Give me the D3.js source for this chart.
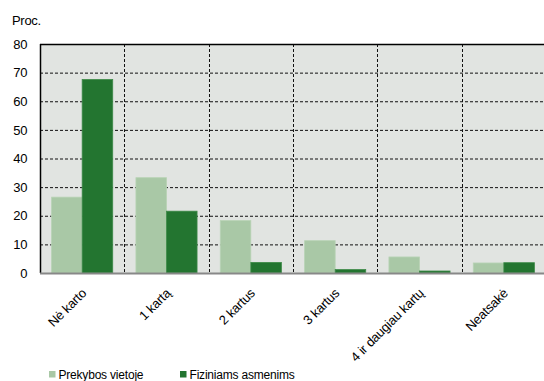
<!DOCTYPE html>
<html>
<head>
<meta charset="utf-8">
<script src="https://cdn.jsdelivr.net/npm/d3@7"></script>
<style>
  body { margin: 0; background: #fff; }
  text { font-family: "Liberation Sans", Arial, sans-serif; fill: #000; }
</style>
</head>
<body>
<svg id="chart"></svg>
<script>
// data
var categories = ['Nė karto', '1 kartą', '2 kartus', '3 kartus', '4 ir daugiau kartų', 'Neatsakė']
var seriesNames = ['Prekybos vietoje', 'Fiziniams asmenims']
var prekybos = [26.5, 33.3, 18.3, 11.3, 5.6, 3.5]
var fiziniams = [67.6, 21.6, 3.7, 1.2, 0.7, 3.6]
var yTicks = [0, 10, 20, 30, 40, 50, 60, 70, 80]
var colors = ['#a9c8a6', '#237530']

var svgWidth = 544, svgHeight = 381
var margin = { top: 44, left: 40, right: -2, bottom: 108 }
var width = svgWidth - margin.left - margin.right
var height = svgHeight - margin.top - margin.bottom

var svg = d3.select('#chart')
    .attr('width', svgWidth)
    .attr('height', svgHeight)

var g = svg.append('g')
    .attr('transform', 'translate(' + margin.left + ',' + margin.top + ')')

var x = d3.scaleBand().domain(categories).range([0, width])
var xs = d3.scaleBand().domain(seriesNames).range([0, x.bandwidth()]).paddingOuter(0.38)
var y = d3.scaleLinear().domain([0, 80]).range([height, 0])

// plot background
g.append('rect')
    .attr('width', width)
    .attr('height', height)
    .attr('fill', '#e1e4e1')

// horizontal grid
g.selectAll('.hgrid')
    .data(yTicks.slice(1, -1))
    .enter().append('line')
    .attr('x1', 0).attr('x2', width)
    .attr('y1', function (d) { return y(d) + 0.5 })
    .attr('y2', function (d) { return y(d) + 0.5 })
    .attr('stroke', '#111')
    .attr('stroke-dasharray', '3,2')

// vertical grid between categories
g.selectAll('.vgrid')
    .data(categories.slice(1))
    .enter().append('line')
    .attr('x1', function (d) { return Math.round(x(d)) + 0.5 })
    .attr('x2', function (d) { return Math.round(x(d)) + 0.5 })
    .attr('y1', 0).attr('y2', height)
    .attr('stroke', '#111')
    .attr('stroke-dasharray', '3,2')

// bars
var rows = categories.map(function (c, i) {
    return { cat: c, values: [prekybos[i], fiziniams[i]] }
})

var groups = g.selectAll('.grp')
    .data(rows)
    .enter().append('g')
    .attr('transform', function (d) { return 'translate(' + x(d.cat) + ',0)' })

groups.selectAll('rect')
    .data(function (d) { return d.values.map(function (v, j) { return { s: seriesNames[j], v: v, j: j } }) })
    .enter().append('rect')
    .attr('x', function (d) { return xs(d.s) })
    .attr('width', xs.bandwidth())
    .attr('y', function (d) { return y(d.v) })
    .attr('height', function (d) { return height - y(d.v) })
    .attr('fill', function (d) { return colors[d.j] })
    .attr('stroke', function (d) { return d.j === 0 ? '#b8d3b5' : '#3d8a48' })
    .attr('stroke-width', 0.8)

// frame: top and left solid, bottom grey
g.append('line').attr('x1', 0).attr('x2', width).attr('y1', 0.5).attr('y2', 0.5)
    .attr('stroke', '#000').attr('stroke-width', 1.5)
g.append('line').attr('x1', 0.5).attr('x2', 0.5).attr('y1', 0).attr('y2', height)
    .attr('stroke', '#000').attr('stroke-width', 1.5)
g.append('line').attr('x1', 0).attr('x2', width).attr('y1', height + 0.5).attr('y2', height + 0.5)
    .attr('stroke', '#888').attr('stroke-width', 2)

// y axis labels
var yAxis = g.append('g')
    .call(d3.axisLeft(y).tickValues(yTicks).tickSize(0).tickPadding(13))
yAxis.select('.domain').remove()
yAxis.selectAll('text')
    .style('font-family', '"Liberation Sans", Arial, sans-serif')
    .style('font-size', '13px')
    .style('letter-spacing', '-0.4px')
    .attr('fill', '#000')

// x axis labels (rotated)
var xAxis = g.append('g')
    .attr('transform', 'translate(0,' + height + ')')
    .call(d3.axisBottom(x).tickSize(0).tickPadding(0))
xAxis.select('.domain').remove()
xAxis.selectAll('text')
    .style('font-family', '"Liberation Sans", Arial, sans-serif')
    .style('font-size', '13px')
    .style('letter-spacing', '-0.2px')
    .attr('fill', '#000')
    .attr('text-anchor', 'end')
    .attr('dy', 0)
    .attr('y', 0)
    .attr('transform', 'translate(5,21) rotate(-45)')

// unit label
svg.append('text')
    .attr('x', 12)
    .attr('y', 25)
    .style('font-size', '13px')
    .style('letter-spacing', '-0.3px')
    .text('Proc.')

// legend
var legend = svg.selectAll('.leg')
    .data(seriesNames)
    .enter().append('g')
    .attr('transform', function (d, i) { return 'translate(' + (49 + i * 131) + ',371)' })
legend.append('rect')
    .attr('width', 6.5)
    .attr('height', 6.5)
    .attr('fill', function (d, i) { return colors[i] })
legend.append('text')
    .attr('x', 9.5)
    .attr('y', 7.5)
    .style('font-size', '12px')
    .style('letter-spacing', '-0.2px')
    .text(function (d) { return d })
</script>
</body>
</html>
